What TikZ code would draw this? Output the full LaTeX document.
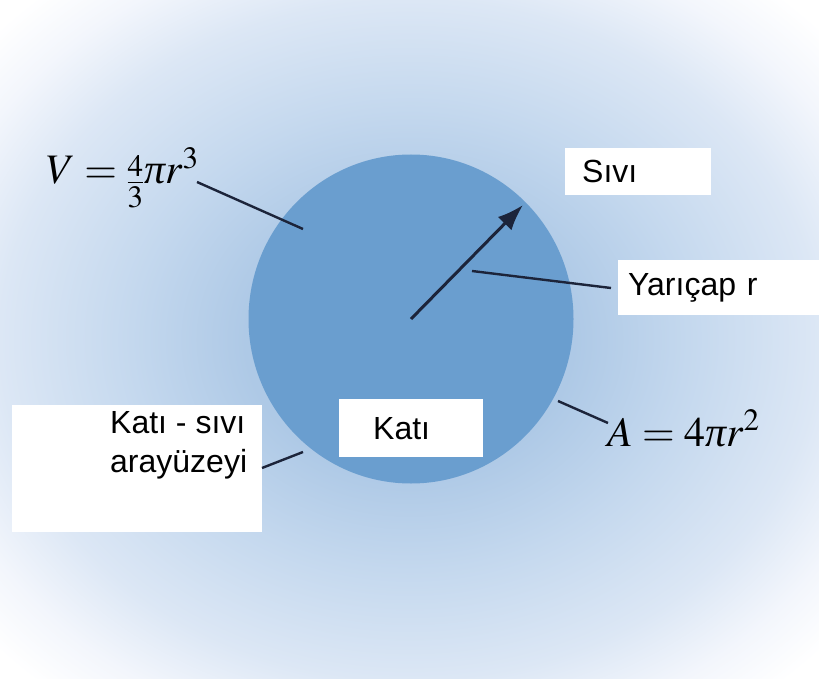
\documentclass[tikz,border=0pt]{standalone}
\usepackage{mathptmx}
\usepackage{fontspec}
\setmainfont{Liberation Sans}
\newfontfamily\tnrfont{Liberation Serif}
\usetikzlibrary{arrows.meta,shapes.geometric}
\definecolor{spherecol}{RGB}{106,158,207}
\definecolor{leadcol}{RGB}{28,36,58}
\definecolor{gA}{RGB}{158,190,224}
\definecolor{gB}{RGB}{174,201,230}
\definecolor{gC}{RGB}{196,216,238}
\definecolor{gD}{RGB}{220,231,245}
\definecolor{gE}{RGB}{243,246,252}
\pgfdeclareradialshading{bgglow}{\pgfpoint{0bp}{0bp}}{color(0bp)=(gA); color(10bp)=(gB); color(17bp)=(gC); color(25bp)=(gD); color(30bp)=(gE); color(34bp)=(white); color(50bp)=(white)}
\newcommand{\ipi}{\mbox{\tnrfont\itshape π}}
\tikzset{
  labelbox/.style={fill=white, inner sep=0pt, anchor=north west, font=\fontsize{32}{39}\selectfont, align=left},
  leader/.style={draw=leadcol, line width=2.4pt},
  radarrow/.style={draw=leadcol, line width=3pt, -{Latex[length=26pt,width=19pt]}},
  formula/.style={inner sep=0pt, anchor=base west, font=\fontsize{42}{46}\selectfont}
}
\begin{document}
\begin{tikzpicture}[x=1pt,y=-1pt]
\useasboundingbox (0,0) rectangle (819,679);
\shade[shading=bgglow] (0,0) rectangle (819,679);
\node[ellipse, fill=spherecol, minimum width=325pt, minimum height=329pt, inner sep=0pt] (sphere) at (411,319) {};
% labels
\node[labelbox, minimum width=146pt, minimum height=47pt, text width=146pt] (sivi) at (565,148) {\hspace*{17pt}Sıvı};
\node[labelbox, minimum width=201pt, minimum height=55pt, text width=201pt] (yaricap) at (618,260) {\hspace*{10pt}Yarıçap r};
\node[labelbox, minimum width=144pt, minimum height=58pt, text width=144pt] (kati) at (339,399) {\hspace*{34pt}Katı};
\node[fill=white, inner sep=0pt, anchor=north west, minimum width=250pt, minimum height=127pt] (arayuzbox) at (12,405) {};
\node[inner sep=0pt, anchor=base west, font=\fontsize{32}{39}\selectfont, align=left] (arayuz) at (110,472) {Katı - sıvı\\arayüzeyi};
\node[formula] (vform) at (46,184) {$V=\raisebox{-9pt}{$\frac{4}{3}$}\ipi r^3$};
\node[formula] (aform) at (607,446) {$A=4\ipi r^2$};
% connectors
\coordinate (vstart) at (197,182);
\coordinate (vend) at (303,229);
\coordinate (tip) at (523,205);
\coordinate (rstart) at (472,271);
\coordinate (rend) at (611,288);
\coordinate (astart) at (558,401);
\coordinate (aend) at (608,423);
\coordinate (kstart) at (262,468);
\coordinate (kend) at (303,452);
\draw[leader] (vstart) -- (vend);
\draw[radarrow] (sphere.center) -- (tip);
\draw[leader] (rstart) -- (rend);
\draw[leader] (astart) -- (aend);
\draw[leader] (kstart) -- (kend);
\end{tikzpicture}
\end{document}
